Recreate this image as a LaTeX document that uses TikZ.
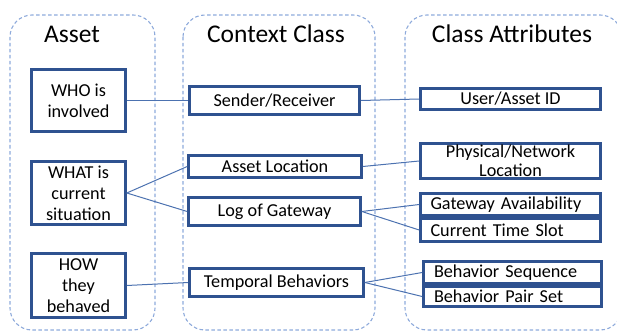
\documentclass[tikz,border=0pt]{standalone}
\usepackage{fontspec}
\setmainfont{Carlito}
\definecolor{boxblue}{HTML}{2F5290}
\definecolor{linkblue}{HTML}{4C72B0}
\definecolor{dashblue}{HTML}{8EAADB}
\begin{document}
\begin{tikzpicture}[x=1pt,y=-1pt,
  container/.style={draw=dashblue, dashed, dash pattern=on 3.5pt off 2.5pt, line width=1.1pt, rounded corners=22pt},
  box/.style={draw=boxblue, line width=2.6pt, fill=white, inner sep=1pt, font=\fontsize{18.2}{21}\selectfont, align=center},
  lbox/.style={box, align=left, text width=#1, inner sep=0pt},
  title/.style={font=\fontsize{25.5}{28}\selectfont, anchor=base},
  link/.style={draw=linkblue, line width=1pt}]
\useasboundingbox (0,0) rectangle (617,331);
% containers
\draw[container] (10,15) rectangle (155,330);
\draw[container] (183,15) rectangle (375,330);
\draw[container] (405,15) rectangle (622,330);
% titles
\node[title] (tA) at (72,43) {Asset};
\node[title] (tC) at (276,43) {Context Class};
\node[title] (tK) at (512,43) {Class Attributes};
% asset boxes
\node[box, minimum width=94pt, minimum height=62pt] (who) at (78.5,100.5) {WHO is\\involved};
\node[box, minimum width=94pt, minimum height=63pt] (what) at (78.5,193) {WHAT is\\current\\situation};
\node[box, minimum width=94pt, minimum height=64pt] (how) at (78.5,285.5) {HOW\\they\\behaved};
% context boxes
\node[box, minimum width=170pt, minimum height=28pt] (snd) at (274.5,100.5) {Sender/Receiver};
\node[box, minimum width=173pt, minimum height=22pt] (loc) at (275,166.5) {Asset Location};
\node[box, minimum width=172pt, minimum height=28pt] (log) at (274.5,211.5) {Log of Gateway};
\node[box, minimum width=174pt, minimum height=28pt] (tmp) at (276.5,282.5) {Temporal Behaviors};
% attribute boxes
\node[box, minimum width=180pt, minimum height=21pt] (uid) at (510.5,99) {User/Asset ID};
\node[box, minimum width=180pt, minimum height=35pt, inner sep=0pt, font=\fontsize{18.2}{19}\selectfont] (phy) at (510.5,161) {Physical/Network\\Location};
\node[lbox=160pt, minimum width=180pt, minimum height=22pt] (gwa) at (510.5,204.5) {Gateway Availability};
\node[lbox=160pt, minimum width=180pt, minimum height=23pt] (cts) at (510.5,230) {Current Time Slot};
\node[lbox=157pt, minimum width=178pt, minimum height=22pt] (bsq) at (512.5,272.5) {Behavior Sequence};
\node[lbox=157pt, minimum width=178pt, minimum height=20pt] (bps) at (512.5,296.5) {Behavior Pair Set};
% links
\draw[link] (who.east) -- (snd.west);
\draw[link] (what.east) -- (loc.west);
\draw[link] (what.east) -- (log.west);
\draw[link] (how.east) -- (tmp.west);
\draw[link] (snd.east) -- (uid.west);
\draw[link] (loc.east) -- (phy.west);
\draw[link] (log.east) -- (gwa.west);
\draw[link] (log.east) -- (cts.west);
\draw[link] (tmp.east) -- (bsq.west);
\draw[link] (tmp.east) -- (bps.west);
\end{tikzpicture}
\end{document}
